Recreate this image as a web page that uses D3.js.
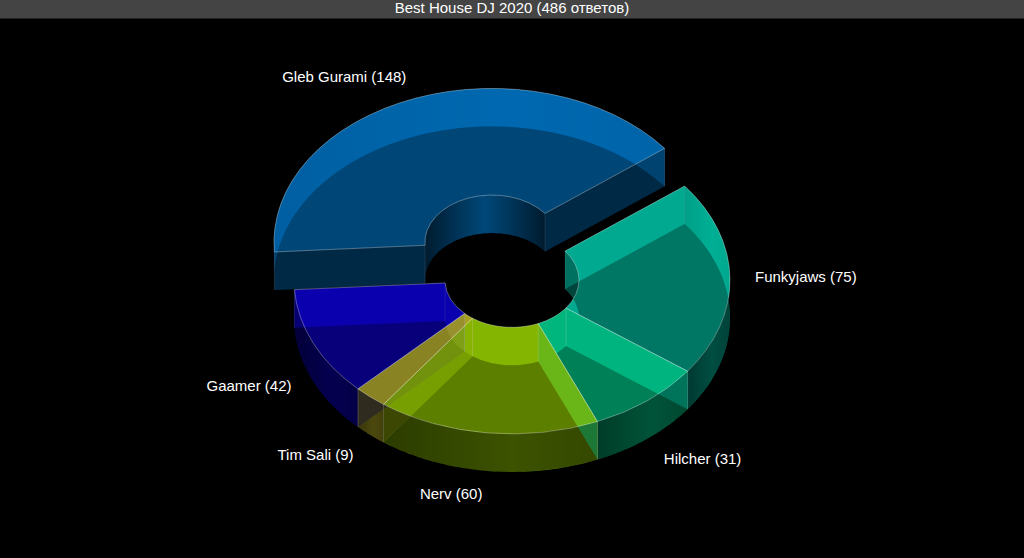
<!DOCTYPE html>
<html>
<head>
<meta charset="utf-8">
<style>
  html, body { margin: 0; padding: 0; background: #000; overflow: hidden; }
  svg { display: block; }
  text { font-family: "Liberation Sans", Arial, sans-serif; fill: #fff; }
</style>
</head>
<body>
<svg id="chart" width="1024" height="558"></svg>
<script src="https://cdn.jsdelivr.net/npm/d3@7"></script>
<script>
"use strict";

const TITLE = "Best House DJ 2020 (486 ответов)";
const names = ["Gleb Gurami", "Funkyjaws", "Hilcher", "Nerv", "Tim Sali", "Gaamer"];
const votes = [148, 75, 31, 60, 9, 42];
const colors = ["#0081DA", "#00D8B8", "#00E99E", "#A9E700", "#D6CC26", "#0D00DE"];

const WIDTH = 1024, HEIGHT = 558;
const CENTER = { X: 512, Y: 280 };
const PIE = {
  OUTER: 218, INNER: 67, TILT: 0.706, DEPTH: 38, START_DEG: -93.6,
  TOP_ALPHA: 0.55, WALL_SHADE: 0.52, BOTTOM_ALPHA: 0.38, END_WALL_ALPHA: 0.67
};
const PULLED = { "Gleb Gurami": 57 };
const LABEL = { RX: 243, RY: 251, NUDGE: { "Gleb Gurami": [0, 2], "Hilcher": [1, 3], "Tim Sali": [-0.5, 3], "Gaamer": [1, -4], "Nerv": [-2, 1], "Funkyjaws": [0, 0] } };

const svg = d3.select("#chart");
const defs = svg.append("defs");

const rad = deg => deg * Math.PI / 180;
const shade = (c, k) => {
  const rgb = d3.rgb(c);
  return d3.rgb(rgb.r * k, rgb.g * k, rgb.b * k).formatRgb();
};

const slices = d3.pie().sort(null)
  .startAngle(rad(PIE.START_DEG))
  .endAngle(rad(PIE.START_DEG + 360))(votes)
  .map((s, i) => {
    const mid = (s.startAngle + s.endAngle) / 2;
    const pull = PULLED[names[i]] || 0;
    return {
      name: names[i], value: s.value, color: colors[i], a0: s.startAngle, a1: s.endAngle, mid,
      cx: CENTER.X + Math.sin(mid) * pull,
      cy: CENTER.Y - Math.cos(mid) * pull * PIE.TILT
    };
  });

// ground plane to screen, h is the drop below the top face
const project = (s, r, a, h = 0) => [
  s.cx + r * Math.sin(a),
  s.cy - r * Math.cos(a) * PIE.TILT + h
];

const ring = d3.arc().innerRadius(PIE.INNER).outerRadius(PIE.OUTER);
const faceTransform = (s, h) => `translate(${s.cx},${s.cy + h}) scale(1,${PIE.TILT})`;

function curvedWall(s, r) {
  const angles = d3.range(0, 61).map(k => s.a0 + (s.a1 - s.a0) * k / 60);
  const pts = angles.map(a => project(s, r, a))
    .concat(angles.slice().reverse().map(a => project(s, r, a, PIE.DEPTH)));
  return d3.line()(pts) + "Z";
}

function radialWall(s, a) {
  return d3.line()([
    project(s, PIE.INNER, a), project(s, PIE.OUTER, a),
    project(s, PIE.OUTER, a, PIE.DEPTH), project(s, PIE.INNER, a, PIE.DEPTH)
  ]) + "Z";
}

function addGradient(id, stops) {
  const g = defs.append("linearGradient").attr("id", id);
  stops.forEach(([offset, color]) => g.append("stop").attr("offset", offset).attr("stop-color", color));
}

slices.forEach((s, i) => {
  // the hole wall of the big back slice catches light in the middle
  addGradient(`inner-${i}`, [["0%", shade(s.color, 0.35)], ["50%", shade(s.color, 0.9)], ["100%", shade(s.color, 0.35)]]);
  addGradient(`outer-${i}`, [["0%", shade(s.color, 0.42)], ["60%", shade(s.color, 0.58)], ["100%", shade(s.color, 0.5)]]);
});

const wall = c => shade(c, PIE.WALL_SHADE);
const isPulled = s => Boolean(PULLED[s.name]);

// each slice paints over the bottom shadow of the one before it
slices.forEach((s, i) => {
  const prev = slices[(i + slices.length - 1) % slices.length];
  const next = slices[(i + 1) % slices.length];
  const g = svg.append("g");

  g.append("path").attr("d", curvedWall(s, PIE.OUTER)).attr("fill", `url(#outer-${i})`);
  g.append("path").attr("d", curvedWall(s, PIE.INNER))
    .attr("fill", isPulled(s) ? `url(#inner-${i})` : wall(s.color));
  g.append("path").attr("d", radialWall(s, s.a0)).attr("fill", wall(s.color));

  if (!isPulled(s) && !isPulled(prev)) {
    g.append("path").attr("d", radialWall(s, s.a0))
      .attr("fill", wall(prev.color)).attr("opacity", PIE.END_WALL_ALPHA);
  }
  if (isPulled(s) || isPulled(next)) {
    g.append("path").attr("d", radialWall(s, s.a1)).attr("fill", wall(s.color));
  }

  g.append("path").attr("d", ring({ startAngle: s.a0, endAngle: s.a1 }))
    .attr("transform", faceTransform(s, PIE.DEPTH))
    .attr("fill", "#000").attr("fill-opacity", PIE.BOTTOM_ALPHA);
});

svg.append("g").selectAll("path").data(slices).join("path")
  .attr("d", s => ring({ startAngle: s.a0, endAngle: s.a1 }))
  .attr("transform", s => faceTransform(s, 0))
  .attr("fill", s => s.color).attr("fill-opacity", PIE.TOP_ALPHA)
  .attr("stroke", "#fff").attr("stroke-opacity", 0.4).attr("stroke-width", 0.8)
  .attr("vector-effect", "non-scaling-stroke");

// thin upright edges where the slices end
const edges = slices.flatMap(s => [s.a0, s.a1].flatMap(a => [PIE.INNER, PIE.OUTER].map(r => ({ s, a, r }))));
svg.append("g").selectAll("line").data(edges).join("line")
  .attr("x1", d => project(d.s, d.r, d.a)[0]).attr("y1", d => project(d.s, d.r, d.a)[1])
  .attr("x2", d => project(d.s, d.r, d.a)[0]).attr("y2", d => project(d.s, d.r, d.a, PIE.DEPTH)[1])
  .attr("stroke", "#fff").attr("stroke-opacity", 0.14).attr("stroke-width", 0.7);

// labels sit on a wider ring, the front ones drop with the depth
svg.append("g").selectAll("text").data(slices).join("text")
  .attr("font-size", 15)
  .attr("dominant-baseline", "middle")
  .attr("text-anchor", s => Math.sin(s.mid) < 0 ? "end" : "start")
  .attr("x", s => s.cx + LABEL.RX * Math.sin(s.mid) + (LABEL.NUDGE[s.name] || [0, 0])[0])
  .attr("y", s => {
    const drop = Math.cos(s.mid) < -0.1 ? PIE.DEPTH : 0;
    return s.cy - LABEL.RY * Math.cos(s.mid) * PIE.TILT + drop + (LABEL.NUDGE[s.name] || [0, 0])[1];
  })
  .text(s => `${s.name} (${s.value})`);

svg.append("rect").attr("width", WIDTH).attr("height", 18.5).attr("fill", "#444");
svg.append("text").attr("x", WIDTH / 2).attr("y", 9.5)
  .attr("text-anchor", "middle").attr("dominant-baseline", "middle")
  .attr("font-size", 15).text(TITLE);
</script>
</body>
</html>
